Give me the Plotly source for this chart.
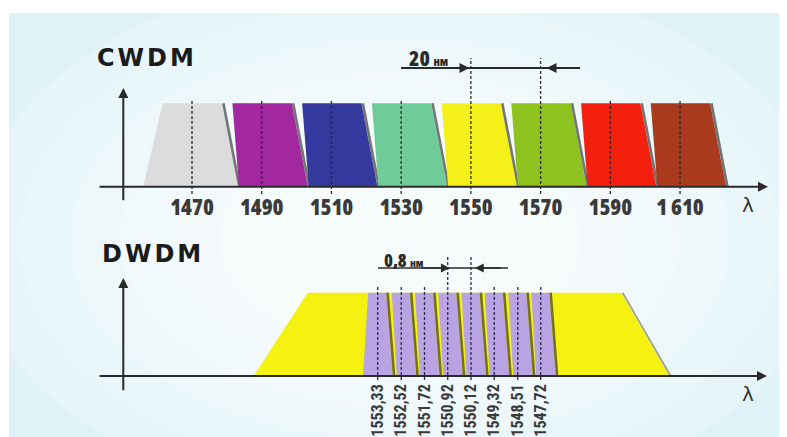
import plotly.graph_objects as go

# ---------------- data ----------------
CWDM_NM = [1470, 1490, 1510, 1530, 1550, 1570, 1590, 1610]
CWDM_LABELS = ["1470", "1490", "1510", "1530", "1550", "1570", "1590", "1 610"]
CWDM_COLORS = ["#dcdcdc", "#a3279f", "#33399d", "#6fcb98",
               "#f6f01a", "#8dc21f", "#f3200e", "#aa3a1d"]
CWDM_MARK = [1550, 1570]          # channels bracketed by "20 нм"
CWDM_MARK_TEXT = "20"

DWDM_NM = [1553.33, 1552.52, 1551.72, 1550.92, 1550.12, 1549.32, 1548.51, 1547.72]
DWDM_LABELS = ["1553,33", "1552,52", "1551,72", "1550,92",
               "1550,12", "1549,32", "1548,51", "1547,72"]
DWDM_COLOR = "#b9a3e2"
DWDM_BAND_NM = [1557.6, 1543.3]   # band edges at the base
DWDM_BAND_COLOR = "#f5f212"
DWDM_MARK = [1550.92, 1550.12]    # channels bracketed by "0,8 нм"
DWDM_MARK_TEXT = "0,8"

LEVEL = 1.0                        # relative channel level

# ---------------- calibration / styles ----------------
W, H = 787, 437
PAGE_OFF = 8                       # browser body margin
C_REF_NM, C_REF_PX, C_PX_PER_NM = 1470.0, 192.0, 3.486
C_Y0_PX, C_PX_PER_UNIT = 186.7, 83.4
D_REF_NM, D_REF_PX, D_PX_PER_NM = 1553.33, 377.7, -29.06
D_Y0_PX, D_PX_PER_UNIT = 376.0, 83.3


def cx(px):
    return C_REF_NM + (px - C_REF_PX) / C_PX_PER_NM


def cy(py):
    return (C_Y0_PX - py) / C_PX_PER_UNIT


def dx(px):
    return D_REF_NM + (px - D_REF_PX) / D_PX_PER_NM


def dy(py):
    return (D_Y0_PX - py) / D_PX_PER_UNIT


def pxx(px):
    return (px - PAGE_OFF) / W


def pxy(py):
    return 1 - (py - PAGE_OFF) / H


# channel outline offsets in pixels from centre (BL, TL, TR, BR)
C_OFF = dict(bl=-22.7, bl_first=-49.0, tl=-29.3, tr=30.0, br=46.0)
D_OFF = dict(bl=-4.5, bl_first=-14.7, tl=-9.5, tr=8.5, br=15.0)
SHADOW_PX = 1.4
SHADOW_COLOR = "rgba(35,35,35,0.62)"
AXIS_COLOR = "#2a2a2a"
COND_A = "Open Sans, DejaVu Sans Condensed, sans-serif"
COND_B = "Roboto, DejaVu Sans Condensed, sans-serif"
TITLE_FONT = "DejaVu Sans, Verdana, sans-serif"


def cond(t):
    return "<span style='font-stretch:75%'>" + t + "</span>"


fig = go.Figure()


def add_poly(xs, ys, color, xa, ya):
    fig.add_trace(go.Scatter(x=xs + [xs[0]], y=ys + [ys[0]], mode="lines",
                             fill="toself", fillcolor=color,
                             line=dict(width=0, color=color),
                             xaxis=xa, yaxis=ya, hoverinfo="skip",
                             showlegend=False))


def add_line(xs, ys, xa, ya, color, width, dash="solid"):
    fig.add_trace(go.Scatter(x=xs, y=ys, mode="lines",
                             line=dict(color=color, width=width, dash=dash),
                             xaxis=xa, yaxis=ya, hoverinfo="skip",
                             showlegend=False))


def add_channels(centers, colors, off, ppn, xa, ya):
    for i, (c, col) in enumerate(zip(centers, colors)):
        bl = off["bl_first"] if i == 0 else off["bl"]
        xs = [c + bl / ppn, c + off["tl"] / ppn, c + off["tr"] / ppn, c + off["br"] / ppn]
        add_poly(xs, [0, LEVEL, LEVEL, 0], col, xa, ya)
        add_line([c + (off["tr"] + SHADOW_PX) / ppn, c + (off["br"] + SHADOW_PX) / ppn],
                 [LEVEL, 0], xa, ya, SHADOW_COLOR, 2.6)


# ---- CWDM panel ----
add_channels(CWDM_NM, CWDM_COLORS, C_OFF, C_PX_PER_NM, "x", "y")

dxs, dys = [], []
for c in CWDM_NM:
    top = cy(58) if c in CWDM_MARK else cy(99)
    dxs += [c, c, None]
    dys += [cy(194), top, None]
add_line(dxs, dys, "x", "y", "#2b2b2b", 1.3, dash="3px,2px")

# ---- DWDM panel ----
b0, b1 = DWDM_BAND_NM
band_x = [b0, b0 + 54 / D_PX_PER_NM, b1 - 48 / D_PX_PER_NM, b1]
add_poly(band_x, [0, LEVEL, LEVEL, 0], DWDM_BAND_COLOR, "x2", "y2")
add_line([band_x[2] + SHADOW_PX / D_PX_PER_NM, band_x[3] + SHADOW_PX / D_PX_PER_NM],
         [LEVEL, 0], "x2", "y2", "rgba(90,80,20,0.5)", 1.8)

add_channels(DWDM_NM, [DWDM_COLOR] * len(DWDM_NM), D_OFF, D_PX_PER_NM, "x2", "y2")

dxs, dys = [], []
for c in DWDM_NM:
    top = dy(257) if c in DWDM_MARK else dy(287)
    dxs += [c, c, None]
    dys += [dy(380), top, None]
add_line(dxs, dys, "x2", "y2", "#2a2a55", 1.3, dash="3px,2px")

# ---------------- decorations ----------------
shapes = []
annotations = []

# background panel with soft radial glow
shapes.append(dict(type="rect", xref="paper", yref="paper", x0=pxx(9), x1=1, y0=0, y1=pxy(13),
                   fillcolor="#def2f8", line=dict(width=0), layer="below"))
for rx, ry in [(430, 270), (380, 235), (330, 200), (280, 170), (230, 140), (180, 110)]:
    shapes.append(dict(type="circle", xref="paper", yref="paper",
                       x0=pxx(400 - rx), x1=pxx(400 + rx), y0=pxy(240 + ry), y1=pxy(240 - ry),
                       fillcolor="white", opacity=0.22, line=dict(width=0), layer="below"))


def arrow(x, y, ax, ay, xr, yr, width=2.0, head=2, size=1.0):
    annotations.append(dict(x=x, y=y, ax=ax, ay=ay, xref=xr, yref=yr, axref=xr, ayref=yr,
                            text="", showarrow=True, arrowhead=head, arrowsize=size,
                            arrowwidth=width, arrowcolor=AXIS_COLOR))


# axes
arrow(cx(768), 0, cx(98), 0, "x", "y")
arrow(cx(123.3), cy(88), cx(123.3), cy(201.7), "x", "y")
arrow(dx(767), 0, dx(98), 0, "x2", "y2")
arrow(dx(123.3), dy(278), dx(123.3), dy(391.7), "x2", "y2")

# spacing markers
ymc = cy(68)
shapes.append(dict(type="line", xref="x", yref="y", x0=cx(401), x1=cx(580), y0=ymc, y1=ymc,
                   line=dict(color=AXIS_COLOR, width=1.8)))
arrow(CWDM_MARK[0] - 1.5 / C_PX_PER_NM, ymc, cx(440), ymc, "x", "y", width=1.8, head=2, size=1.1)
arrow(CWDM_MARK[1] + 6 / C_PX_PER_NM, ymc, cx(575), ymc, "x", "y", width=1.8, head=2, size=1.1)

ymd = dy(268)
shapes.append(dict(type="line", xref="x2", yref="y2", x0=dx(378), x1=dx(508), y0=ymd, y1=ymd,
                   line=dict(color=AXIS_COLOR, width=1.6)))
arrow(DWDM_MARK[0] + 2 / D_PX_PER_NM, ymd, dx(420), ymd, "x2", "y2", width=1.6, head=2, size=1.1)
arrow(DWDM_MARK[1] + 4 / D_PX_PER_NM, ymd, dx(502), ymd, "x2", "y2", width=1.6, head=2, size=1.1)

annotations.append(dict(x=pxx(407), y=pxy(57.5), xref="paper", yref="paper",
                        xanchor="left", yanchor="middle", showarrow=False,
                        text=cond(CWDM_MARK_TEXT + " <span style='font-size:12px'>нм</span>"),
                        font=dict(family=COND_A, size=21, color="#2a2a2a", weight=800)))
annotations.append(dict(x=pxx(382), y=pxy(260), xref="paper", yref="paper",
                        xanchor="left", yanchor="middle", showarrow=False,
                        text=cond(DWDM_MARK_TEXT + " <span style='font-size:11px'>нм</span>"),
                        font=dict(family=COND_A, size=18, color="#2a2a2a", weight=800)))

# titles
for txt, x0, yc in [("CWDM", 95, 57.5), ("DWDM", 100, 253.5)]:
    annotations.append(dict(x=pxx(x0), y=pxy(yc), xref="paper", yref="paper",
                            xanchor="left", yanchor="middle", showarrow=False,
                            text="<span style='letter-spacing:3px'>" + txt + "</span>",
                            font=dict(family=TITLE_FONT, size=24, color="#1b1b1b", weight="bold")))

# lambda symbols
for yc in [205, 394]:
    annotations.append(dict(x=pxx(748), y=pxy(yc), xref="paper", yref="paper",
                            xanchor="center", yanchor="middle", showarrow=False, text="λ",
                            font=dict(family="DejaVu Sans, sans-serif", size=20, color="#333333")))

fig.update_layout(
    width=W, height=H,
    margin=dict(l=0, r=0, t=0, b=0),
    paper_bgcolor="white", plot_bgcolor="rgba(0,0,0,0)",
    showlegend=False,
    shapes=shapes, annotations=annotations,
    xaxis=dict(domain=[pxx(90), pxx(780)], range=[cx(90), cx(780)], anchor="free",
               position=pxy(C_Y0_PX), tickmode="array", tickvals=CWDM_NM,
               ticktext=[cond(t) for t in CWDM_LABELS],
               showgrid=False, zeroline=False, showline=False, ticks="",
               ticklabelstandoff=5,
               tickfont=dict(family=COND_A, size=22, color="#3a3a3a", weight=800)),
    yaxis=dict(domain=[pxy(225), pxy(40)], range=[cy(225), cy(40)], visible=False),
    xaxis2=dict(domain=[pxx(90), pxx(780)], range=[dx(90), dx(780)], anchor="free",
                position=pxy(D_Y0_PX), tickmode="array", tickvals=DWDM_NM,
                ticktext=[cond(t) for t in DWDM_LABELS],
                tickangle=-90, showgrid=False, zeroline=False, showline=False, ticks="",
                ticklabelstandoff=4,
                tickfont=dict(family=COND_B, size=16, color="#3a3a3a", weight="bold")),
    yaxis2=dict(domain=[pxy(400), pxy(240)], range=[dy(400), dy(240)], visible=False),
)

fig.write_html("out.html")
